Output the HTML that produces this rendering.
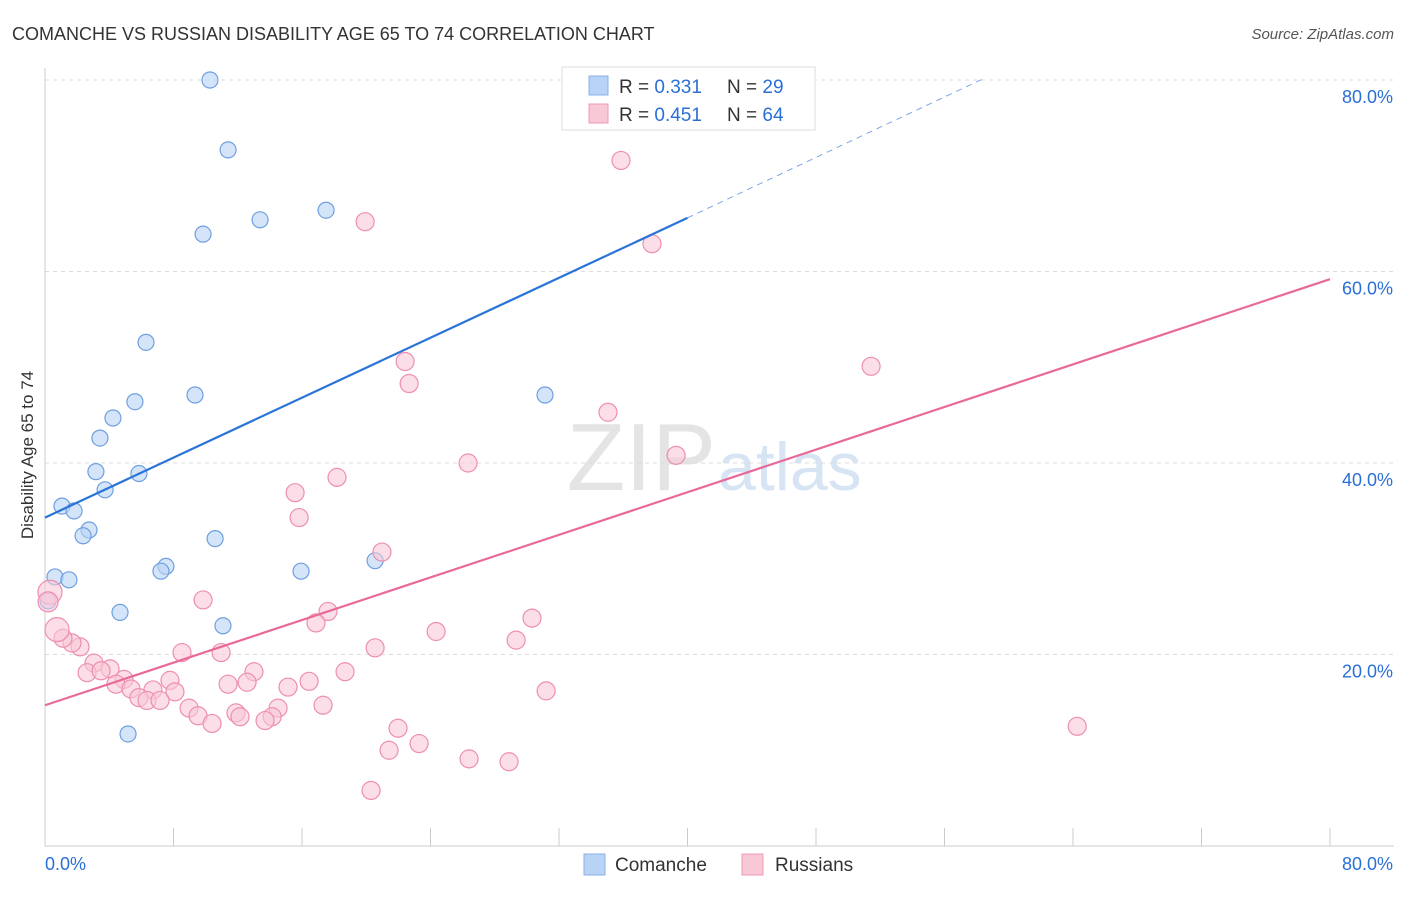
<!DOCTYPE html>
<html><head><meta charset="utf-8"><style>
body{margin:0;background:#fff;font-family:"Liberation Sans",sans-serif}
svg text{font-family:"Liberation Sans",sans-serif}
</style></head><body>
<svg id="chart" width="1406" height="892" xmlns="http://www.w3.org/2000/svg">
<text x="12" y="40" font-size="18" fill="#333">COMANCHE VS RUSSIAN DISABILITY AGE 65 TO 74 CORRELATION CHART</text>
<text x="1394" y="39" font-size="15" fill="#555" text-anchor="end" font-style="italic">Source: ZipAtlas.com</text>
<text x="716" y="490" font-size="96" fill="#e4e4e4" text-anchor="end" font-family="Liberation Serif">ZIP</text>
<text x="718" y="490" font-size="68" fill="#d6e4f4">atlas</text>
<g id="grid"></g>
<g id="axes"></g>
<g id="marks"></g>
<text transform="translate(33,455) rotate(-90)" font-size="17" fill="#333" text-anchor="middle">Disability Age 65 to 74</text>
<g>
<rect x="562" y="67" width="253" height="63" fill="#fff" stroke="#ddd"/>
<rect x="589" y="76" width="19" height="19" fill="#b8d3f5" stroke="#8ab2e6"/>
<rect x="589" y="104" width="19" height="19" fill="#f9c8d7" stroke="#f09ab5"/>
<text x="619" y="93" font-size="19" fill="#333">R = <tspan fill="#2a6fd6">0.331</tspan></text>
<text x="727" y="93" font-size="19" fill="#333">N = <tspan fill="#2a6fd6">29</tspan></text>
<text x="619" y="121" font-size="19" fill="#333">R = <tspan fill="#2a6fd6">0.451</tspan></text>
<text x="727" y="121" font-size="19" fill="#333">N = <tspan fill="#2a6fd6">64</tspan></text>
</g>
<g>
<rect x="584" y="854" width="21" height="21" fill="#b8d3f5" stroke="#8ab2e6"/>
<text x="615" y="871" font-size="19" fill="#333">Comanche</text>
<rect x="742" y="854" width="21" height="21" fill="#f9c8d7" stroke="#f09ab5"/>
<text x="775" y="871" font-size="19" fill="#333">Russians</text>
</g>
</svg>
<script>
const yTicks=[20,40,60,80];
const yTickLabels=["20.0%","40.0%","60.0%","80.0%"];
const xTickLabels=["0.0%","80.0%"];
const comancheX=[10.27,11.4,9.84,13.39,17.5,6.29,9.34,31.13,5.6,4.23,3.42,3.17,5.85,3.74,1.06,1.81,2.74,2.37,10.59,20.55,7.53,7.22,15.94,0.62,1.49,0.19,4.67,11.08,5.17];
const comancheY=[80.0,72.7,63.9,65.4,66.4,52.6,47.1,47.1,46.4,44.7,42.6,39.1,38.9,37.2,35.5,35.0,33.0,32.4,32.1,29.8,29.2,28.7,28.7,28.1,27.8,25.6,24.4,23.0,11.7];
const russX=[41.53,35.86,37.79,19.93,51.43,22.42,22.67,35.05,26.34,39.29,18.18,15.57,15.82,20.98,9.84,17.62,30.32,16.87,24.35,29.33,20.55,2.18,1.68,1.12,0.75,0.31,0.19,8.53,10.96,3.05,4.05,2.62,3.49,13.01,18.68,4.92,7.78,16.44,11.4,12.58,4.42,5.35,6.72,15.13,8.09,31.2,5.85,6.35,7.16,8.97,14.51,17.31,9.53,11.89,12.14,14.14,13.7,10.4,64.26,21.98,23.29,21.42,26.4,28.89,20.3];
const russY=[80.0,71.6,62.9,65.2,50.1,50.6,48.3,45.3,40.0,40.8,38.5,36.9,34.3,30.7,25.7,24.5,23.8,23.3,22.4,21.5,20.7,20.8,21.2,21.7,22.6,26.5,25.5,20.2,20.2,19.1,18.5,18.1,18.3,18.2,18.2,17.4,17.3,17.2,16.9,17.1,16.9,16.4,16.3,16.6,16.1,16.2,15.5,15.2,15.2,14.4,14.4,14.7,13.6,13.9,13.5,13.5,13.1,12.8,12.5,12.3,10.7,10.0,9.1,8.8,5.8];
const russSize=[9,9,9,9,9,9,9,9,9,9,9,9,9,9,9,9,9,9,9,9,9,9,9,9,12,12,10,9,9,9,9,9,9,9,9,9,9,9,9,9,9,9,9,9,9,9,9,9,9,9,9,9,9,9,9,9,9,9,9,9,9,9,9,9,9];
const blueLine=[0,34.3,40,65.6,58.5,80.2];
const pinkLine=[0,14.7,80,59.2];
const NS="http://www.w3.org/2000/svg";
const x0=45,x1=1330,y0=846,yTop=80;
const sx=v=>x0+(x1-x0)*v/80;
const sy=v=>y0-(y0-yTop)*v/80;
function mk(tag,attrs,parent){const e=document.createElementNS(NS,tag);for(const k in attrs)e.setAttribute(k,attrs[k]);parent.appendChild(e);return e;}
const grid=document.getElementById('grid'),axes=document.getElementById('axes'),marks=document.getElementById('marks');
yTicks.forEach((t,i)=>{
 const l=mk('line',{x1:x0,x2:1394,y1:sy(t),y2:sy(t),stroke:'#ddd','stroke-dasharray':'4,4'},grid);
 
 
 const tx=mk('text',{x:1393,y:sy(t)+23,'font-size':18,fill:'#2a6fd6','text-anchor':'end'},axes);
 tx.textContent=yTickLabels[i];
 
 
});
const la=mk('line',{x1:x0,x2:x0,y1:68,y2:y0,stroke:'#ccc'},axes);


const lb=mk('line',{x1:x0,x2:1394,y1:y0,y2:y0,stroke:'#ccc'},axes);


for(let i=0;i<=10;i++){
 const t=mk('line',{x1:sx(i*8),x2:sx(i*8),y1:828,y2:y0,stroke:'#ccc'},axes);
 
 
}
const xl0=mk('text',{x:45,y:870,'font-size':18,fill:'#2a6fd6'},axes);xl0.textContent=xTickLabels[0];


const xl1=mk('text',{x:1393,y:870,'font-size':18,fill:'#2a6fd6','text-anchor':'end'},axes);xl1.textContent=xTickLabels[1];


comancheX.forEach((v,i)=>{
 const c=mk('circle',{cx:sx(v),cy:sy(comancheY[i]),r:8,fill:'#b8d3f5','fill-opacity':0.6,stroke:'#6f9fe0','stroke-width':1.2},marks);
 
 
});
russX.forEach((v,i)=>{
 const c=mk('circle',{cx:sx(v),cy:sy(russY[i]),r:russSize[i]||9,fill:'#f9c8d7','fill-opacity':0.6,stroke:'#ee8fae','stroke-width':1.2},marks);
 
 
});
const bl=mk('line',{x1:sx(blueLine[0]),y1:sy(blueLine[1]),x2:sx(blueLine[2]),y2:sy(blueLine[3]),stroke:'#2a74d8','stroke-width':2.2},marks);


const bd=mk('line',{x1:sx(blueLine[2]),y1:sy(blueLine[3]),x2:sx(blueLine[4]),y2:sy(blueLine[5]),stroke:'#7aa6e6','stroke-width':1,'stroke-dasharray':'6,5'},marks);


const pl=mk('line',{x1:sx(pinkLine[0]),y1:sy(pinkLine[1]),x2:sx(pinkLine[2]),y2:sy(pinkLine[3]),stroke:'#e8699a','stroke-width':2.2},marks);


</script>
</body></html>
